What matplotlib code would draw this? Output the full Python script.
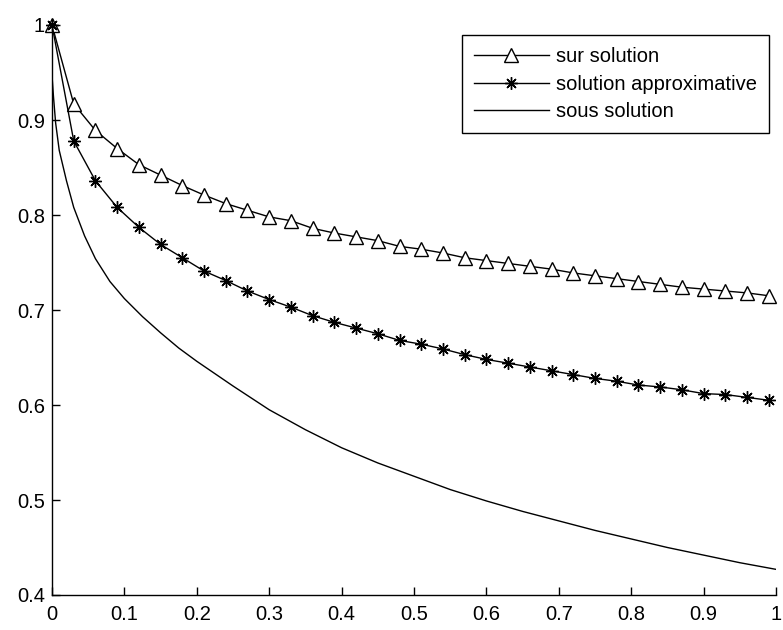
import matplotlib
matplotlib.use("Agg")
import matplotlib.pyplot as plt

plt.rcParams['font.family'] = ['Liberation Sans', 'DejaVu Sans']

# marker x positions shared by the two marked series
x_mark = [0.00, 0.03, 0.06, 0.09, 0.12, 0.15, 0.18, 0.21, 0.24, 0.27,
          0.30, 0.33, 0.36, 0.39, 0.42, 0.45, 0.48, 0.51, 0.54, 0.57,
          0.60, 0.63, 0.66, 0.69, 0.72, 0.75, 0.78, 0.81, 0.84, 0.87,
          0.90, 0.93, 0.96, 0.99]
sur = [1.000, 0.917, 0.889, 0.870, 0.853, 0.842, 0.831, 0.821, 0.812, 0.805,
       0.798, 0.794, 0.786, 0.781, 0.777, 0.773, 0.767, 0.764, 0.760, 0.755,
       0.752, 0.749, 0.746, 0.743, 0.739, 0.736, 0.733, 0.730, 0.727, 0.724,
       0.722, 0.720, 0.718, 0.715]
approx = [1.000, 0.878, 0.836, 0.808, 0.787, 0.769, 0.755, 0.741, 0.731, 0.720,
          0.711, 0.703, 0.694, 0.687, 0.681, 0.675, 0.668, 0.664, 0.659, 0.653,
          0.648, 0.644, 0.640, 0.636, 0.632, 0.628, 0.625, 0.621, 0.619, 0.616,
          0.612, 0.611, 0.608, 0.605]

x_sous = [0.000, 0.002, 0.005, 0.010, 0.020, 0.030, 0.045, 0.060, 0.080, 0.100,
          0.125, 0.150, 0.175, 0.200, 0.250, 0.300, 0.350, 0.400, 0.450, 0.500,
          0.550, 0.600, 0.650, 0.700, 0.750, 0.800, 0.850, 0.900, 0.950, 1.000]
sous = [0.947, 0.925, 0.897, 0.868, 0.836, 0.808, 0.778, 0.754, 0.730, 0.712,
        0.693, 0.676, 0.660, 0.646, 0.620, 0.595, 0.574, 0.555, 0.539, 0.525,
        0.511, 0.499, 0.488, 0.478, 0.468, 0.459, 0.450, 0.442, 0.434, 0.427]

labels = ['sur solution', 'solution approximative', 'sous solution']
xticks = [0, 0.1, 0.2, 0.3, 0.4, 0.5, 0.6, 0.7, 0.8, 0.9, 1]
xticklabels = ['0', '0.1', '0.2', '0.3', '0.4', '0.5', '0.6', '0.7', '0.8', '0.9', '1']
yticks = [0.4, 0.5, 0.6, 0.7, 0.8, 0.9, 1.0]
yticklabels = ['0.4', '0.5', '0.6', '0.7', '0.8', '0.9', '1']

fig = plt.figure(figsize=(7.83, 6.30), dpi=100)
ax = fig.add_axes([52/783, 35/630, 724/783, 570/630])

ax.plot(x_mark, sur, color='black', lw=1.0, marker='^', markersize=9.5,
        markerfacecolor='white', markeredgecolor='black', markeredgewidth=1.0,
        label=labels[0], clip_on=False, zorder=3)
ax.plot(x_mark, approx, color='black', lw=1.0, marker=(8, 2, 0), markersize=9,
        markeredgecolor='black', markeredgewidth=1.0, label=labels[1],
        clip_on=False, zorder=3)
ax.plot(x_sous, sous, color='black', lw=1.0, label=labels[2])

ax.set_xlim(0, 1)
ax.set_ylim(0.4, 1.0)
ax.set_xticks(xticks)
ax.set_xticklabels(xticklabels)
ax.set_yticks(yticks)
ax.set_yticklabels(yticklabels)
ax.tick_params(direction='in', length=6, width=1, labelsize=14.5,
               top=False, right=False)
ax.tick_params(axis='x', pad=7)
ax.tick_params(axis='y', pad=5)
ax.spines['top'].set_visible(False)
ax.spines['right'].set_visible(False)
for s in ('left', 'bottom'):
    ax.spines[s].set_linewidth(1.0)

leg = ax.legend(loc='upper right', bbox_to_anchor=(0.99, 0.982), fontsize=14.5,
                frameon=True, fancybox=False, edgecolor='black', framealpha=1,
                handlelength=3.7, handletextpad=0.35, labelspacing=0.42,
                borderpad=0.6, borderaxespad=0)
leg.get_frame().set_linewidth(1.0)

fig.savefig('out.png', dpi=100, facecolor='white')
